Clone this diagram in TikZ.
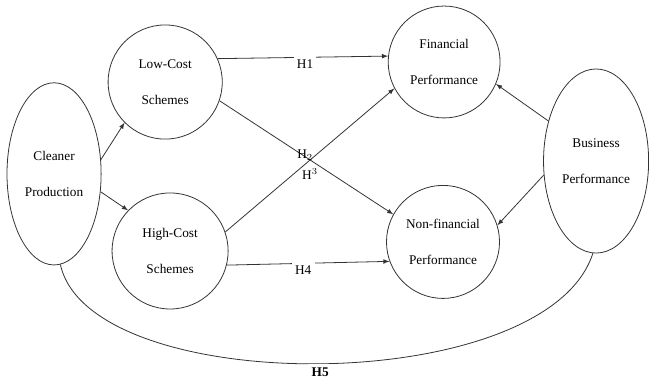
\documentclass[tikz,border=0pt]{standalone}
\usepackage{fontspec}
\setmainfont{Liberation Serif}
\usepackage{tikz}
\usetikzlibrary{shapes.geometric, arrows, positioning}

\begin{document}
\begin{tikzpicture}[
    font=\fontsize{10}{12}\selectfont,
    scheme/.style={circle, draw=black!80, line width=0.6pt, minimum size=3cm, inner sep=0pt, align=center},
    outer/.style={ellipse, draw=black!80, line width=0.6pt, inner sep=0pt, align=center},
    link/.style={draw=black!80, line width=0.6pt, -latex},
    hyp/.style={fill=white, inner sep=2.5pt}
]
\useasboundingbox (0,0) rectangle (17.17,10.13);

% Antecedent
\node[outer, minimum width=2.49cm, minimum height=4.82cm] (cp) at (1.43,5.53) {Cleaner\\[15pt]Production};

% Schemes
\node[scheme, minimum size=3.02cm] (lc) at (4.37,7.96) {Low-Cost\\[15pt]Schemes};
\node[scheme, minimum size=3.07cm] (hc) at (4.50,3.49) {High-Cost\\[15pt]Schemes};

% Outcomes
\node[scheme, minimum size=2.96cm] (fp) at (11.75,8.49) {Financial\\[15pt]Performance};
\node[scheme, minimum size=2.99cm] (nf) at (11.72,3.73) {Non-financial\\[15pt]Performance};
\node[outer, minimum width=2.78cm, minimum height=4.87cm] (bp) at (15.77,5.87) {Business\\[15pt]Performance};

\draw[link] (cp.17) -- (lc.225);
\draw[link] (cp.-21) -- (hc.136);

\draw[link] (lc.24) -- (fp.174);
\draw[link] (lc.-19) -- (nf.151);
\draw[link] (hc.19) -- (fp.208);
\draw[link] (hc.-14) -- (nf.200);

\draw[link] (bp.140) -- (fp.-23);
\draw[link] (bp.195) -- (nf.17);

\draw[draw=black!80, line width=0.6pt] (cp.-86) .. controls (2.38,-0.42) and (14.45,-0.42) .. (bp.-92);

% Hypotheses
\node[hyp] (h1) at (8.07,8.44) {H1};
\node (h2) at (8.07,6.03) {H$_2$};
\node (h3) at (8.20,5.53) {H$^3$};
\node[hyp] (h4) at (8.02,2.99) {H4};
\node[hyp] (h5) at (8.47,0.29) {\textbf{H5}};

\end{tikzpicture}
\end{document}
